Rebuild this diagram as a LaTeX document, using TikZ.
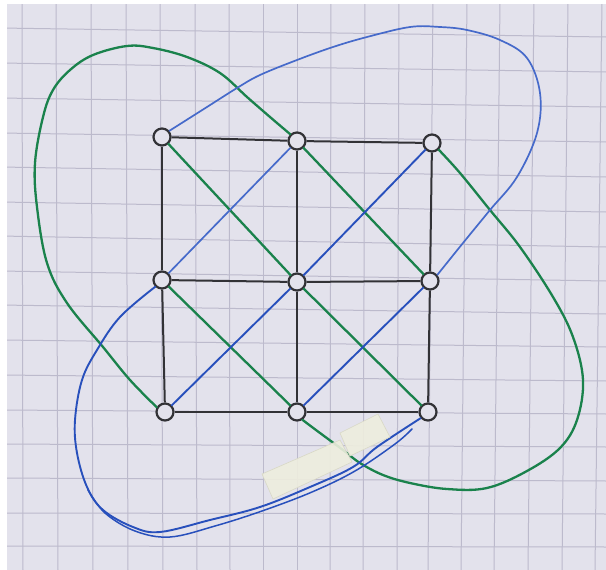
\documentclass[tikz,border=0pt]{standalone}
\definecolor{paper}{RGB}{227,226,236}
\definecolor{gridc}{RGB}{188,186,204}
\definecolor{ink}{RGB}{50,50,54}
\definecolor{pgreen}{RGB}{26,130,76}
\definecolor{pblue}{RGB}{40,80,188}
\definecolor{pblue2}{RGB}{70,106,202}
\definecolor{tape}{RGB}{238,238,222}
\definecolor{tapeedge}{RGB}{216,216,198}
\begin{document}
\begin{tikzpicture}[x=1pt,y=-1pt,
  dot/.style={circle,draw=ink,line width=2.2pt,fill=paper,minimum size=17pt,inner sep=0pt},
  edge/.style={draw=ink,line width=2pt},
  gline/.style={draw=pgreen,line width=2.3pt,line cap=round,line join=round},
  bline/.style={draw=pblue,line width=1.9pt,line cap=round,line join=round},
  bline2/.style={draw=pblue2,line width=1.7pt,line cap=round,line join=round},
  tapebox/.style={fill=tape,draw=tapeedge,line width=0.6pt,fill opacity=0.9}]
\useasboundingbox (0,0) rectangle (606,570);
\fill[white] (0,0) rectangle (606,570);
\fill[paper] (7,4) rectangle (606,570);
\begin{scope}
\clip (7,4) rectangle (606,570);
\foreach \a/\b in {22/23,56/58,91/93,126/128,160/163,195/197,229/230,263/263,297/297,331/330,365/363,399/397,433/428,467/461,500/494,534/528,568/562,602/595}
  \draw[gridc,line width=1pt] (\a,0) -- (\b,570);
\foreach \a/\b in {28/37,63/72,98/107,133/142,167/177,202/212,236/247,271/281,305/314,340/347,375/381,410/414,444/447,478/481,513/514,546/547}
  \draw[gridc,line width=1pt] (0,\a) -- (606,\b);
\end{scope}
% nodes
\node[dot] (TL) at (162,137) {};
\node[dot] (TM) at (297,141) {};
\node[dot] (TR) at (432,143) {};
\node[dot] (ML) at (162,280) {};
\node[dot] (MM) at (297,282) {};
\node[dot] (MR) at (430,281) {};
\node[dot] (BL) at (165,412) {};
\node[dot] (BM) at (297,412) {};
\node[dot] (BR) at (428,412) {};
% black grid edges
\draw[edge] (TL) -- (TM); \draw[edge] (TM) -- (TR);
\draw[edge] (ML) -- (MM); \draw[edge] (MM) -- (MR);
\draw[edge] (BL) -- (BM); \draw[edge] (BM) -- (BR);
\draw[edge] (TL) -- (ML); \draw[edge] (ML) -- (BL);
\draw[edge] (TM) -- (MM); \draw[edge] (MM) -- (BM);
\draw[edge] (TR) -- (MR); \draw[edge] (MR) -- (BR);
% green diagonals
\draw[gline] (TL) -- (MM); \draw[gline] (MM) -- (BR);
\draw[gline] (TM) -- (MR);
\draw[gline] (ML) -- (BM);
% blue diagonals
\draw[bline] (BL) -- (MM); \draw[bline] (MM) -- (TR);
\draw[bline2] (ML) -- (TM);
\draw[bline] (BM) -- (MR);
% green loops
\draw[gline] plot[smooth,tension=0.6] coordinates {(BL.150) (130,380) (103,347) (67,303) (47,263) (37,207) (35,163) (43,117) (53,90) (70,70) (93,55) (127,46) (153,48) (187,57) (220,73) (247,97) (270,117) (TM.135)};
\draw[gline] plot[smooth,tension=0.6] coordinates {(BM.-55) (320,433) (343,450) (360,463) (383,475) (410,483) (447,489) (487,488) (527,471) (560,448) (577,420) (583,380) (573,337) (553,297) (520,247) (490,210) (460,173) (TR.-45)};
% blue loops
\draw[bline2] plot[smooth,tension=0.6] coordinates {(TL.40) (207,107) (237,88) (260,75) (297,60) (333,47) (367,37) (410,27) (440,27) (467,30) (500,40) (527,58) (540,93) (537,133) (517,177) (490,210) (463,243) (MR.40)};
\draw[bline] plot[smooth,tension=0.6] coordinates {(ML.-135) (120,317) (97,350) (82,380) (75,420) (77,453) (87,487) (103,510) (133,527) (160,532) (210,520) (260,507) (310,487) (353,467) (377,447) (BR.-140)};
\coordinate (s1) at (88,490);
\coordinate (s2) at (412,429);
\draw[bline,line width=1.5pt] plot[smooth,tension=0.6] coordinates {(s1) (105,513) (135,531) (170,537) (215,526) (262,511) (312,492) (355,471) (395,444) (s2)};
% tape
\draw[tapebox] (262,474) -- (340,440) -- (352,462) -- (273,499) -- cycle;
\draw[tapebox] (340,433) -- (378,414) -- (390,437) -- (350,456) -- cycle;
\end{tikzpicture}
\end{document}
